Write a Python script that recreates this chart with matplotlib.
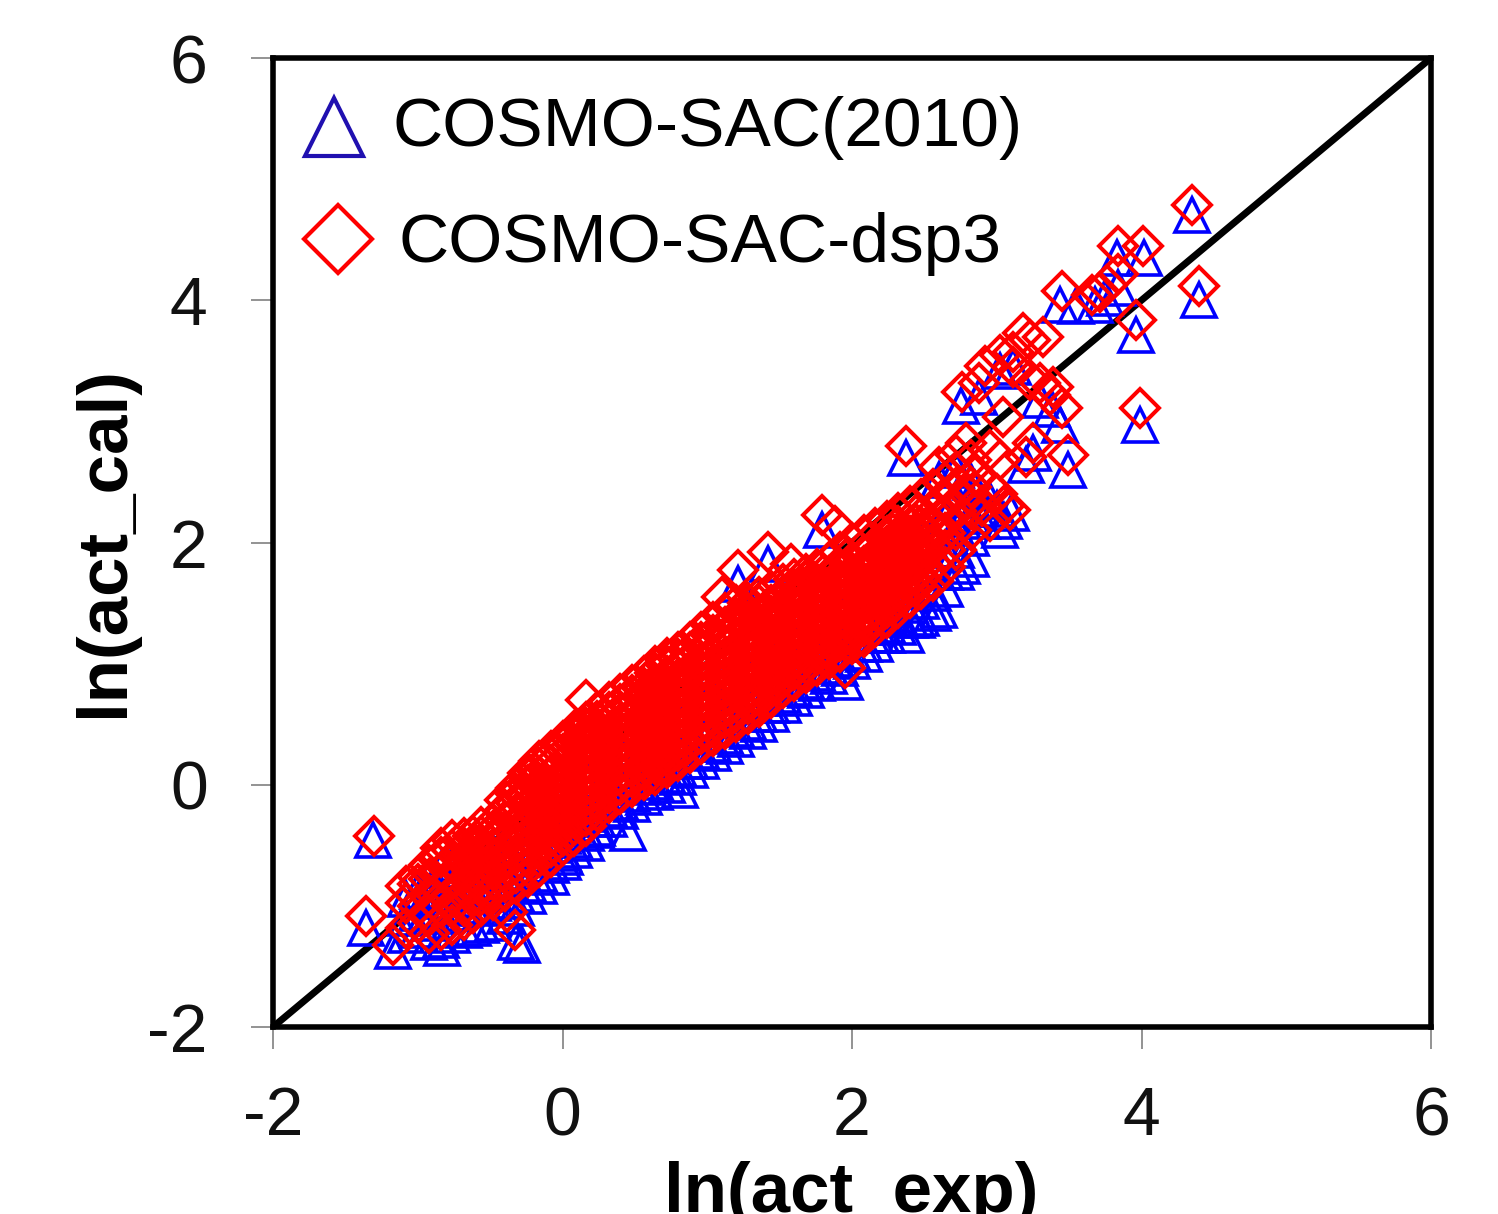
import matplotlib

matplotlib.use("Agg")
import matplotlib.pyplot as plt

plt.rcParams["font.family"] = ["Liberation Sans", "DejaVu Sans"]

tick_values = [-2, 0, 2, 4, 6]
tick_labels = ["-2", "0", "2", "4", "6"]
diagonal = [-2, 6]

# dense part of the cloud, one list of y values for each x column
band_x = [-1.08, -1.0, -0.92, -0.84, -0.76, -0.68, -0.62,
          -0.56, -0.48, -0.40, -0.32, -0.24, -0.16, -0.08, 0.0, 0.08, 0.16,
          0.24, 0.32, 0.40, 0.48, 0.56, 0.64, 0.72, 0.80, 0.88, 0.96,
          1.04, 1.12, 1.20, 1.28, 1.36, 1.44, 1.52, 1.60, 1.68, 1.76,
          1.84, 1.92, 2.00, 2.08, 2.16, 2.24, 2.32, 2.40, 2.48, 2.56, 2.64, 2.72, 2.82]
red_band_y = [
    [-1.18, -0.98, -0.84],
    [-1.14, -1.0, -0.82, -0.76],
    [-1.22, -1.08, -0.92, -0.78, -0.66],
    [-1.2, -1.02, -0.86, -0.72, -0.6, -0.52],
    [-1.16, -1.0, -0.9, -0.76, -0.64, -0.54, -0.46],
    [-1.12, -1.0, -0.84, -0.72, -0.62, -0.52, -0.44],
    [-1.06, -0.92, -0.82, -0.72, -0.62, -0.53, -0.42],
    [-1.0, -0.91, -0.83, -0.74, -0.66, -0.58, -0.5, -0.42, -0.35],
    [-0.95, -0.87, -0.78, -0.7, -0.62, -0.53, -0.45, -0.38, -0.32],
    [-0.88, -0.8, -0.72, -0.63, -0.54, -0.46, -0.38, -0.3, -0.21, -0.13],
    [-0.82, -0.73, -0.65, -0.57, -0.49, -0.4, -0.32, -0.24, -0.15, -0.08, -0.03],
    [-0.76, -0.68, -0.59, -0.51, -0.42, -0.34, -0.25, -0.17, -0.09, 0.0, 0.06, 0.1],
    [-0.68, -0.6, -0.52, -0.43, -0.35, -0.26, -0.18, -0.1, -0.01, 0.07, 0.14, 0.2],
    [-0.6, -0.51, -0.43, -0.34, -0.26, -0.18, -0.09, -0.01, 0.08, 0.16, 0.23, 0.28],
    [-0.5, -0.42, -0.34, -0.25, -0.17, -0.08, 0.0, 0.08, 0.17, 0.25, 0.31, 0.36],
    [-0.42, -0.33, -0.25, -0.16, -0.08, 0.01, 0.09, 0.17, 0.26, 0.34, 0.4, 0.44],
    [-0.34, -0.26, -0.17, -0.09, 0.0, 0.08, 0.16, 0.25, 0.33, 0.41, 0.47, 0.52],
    [-0.22, -0.14, -0.05, 0.03, 0.12, 0.2, 0.28, 0.37, 0.45, 0.53, 0.6],
    [-0.15, -0.07, 0.02, 0.1, 0.18, 0.27, 0.35, 0.43, 0.52, 0.6, 0.68],
    [-0.08, 0.0, 0.09, 0.17, 0.25, 0.34, 0.42, 0.5, 0.59, 0.67, 0.75],
    [-0.02, 0.06, 0.15, 0.23, 0.32, 0.4, 0.48, 0.57, 0.65, 0.74, 0.82],
    [0.04, 0.12, 0.21, 0.29, 0.38, 0.46, 0.54, 0.63, 0.71, 0.8, 0.9],
    [0.08, 0.17, 0.25, 0.34, 0.42, 0.5, 0.59, 0.67, 0.76, 0.84, 0.92, 0.98],
    [0.14, 0.23, 0.31, 0.39, 0.48, 0.56, 0.65, 0.73, 0.81, 0.9, 0.98, 1.05],
    [0.2, 0.28, 0.37, 0.45, 0.54, 0.62, 0.7, 0.79, 0.87, 0.96, 1.04, 1.1],
    [0.26, 0.35, 0.43, 0.52, 0.6, 0.68, 0.77, 0.85, 0.94, 1.02, 1.1, 1.18],
    [0.34, 0.42, 0.51, 0.59, 0.68, 0.76, 0.84, 0.93, 1.01, 1.1, 1.18, 1.26],
    [0.4, 0.48, 0.57, 0.65, 0.74, 0.82, 0.9, 0.99, 1.07, 1.16, 1.24, 1.34],
    [0.46, 0.55, 0.63, 0.72, 0.8, 0.88, 0.97, 1.05, 1.14, 1.22, 1.3, 1.42],
    [0.52, 0.6, 0.69, 0.77, 0.86, 0.94, 1.02, 1.11, 1.19, 1.28, 1.38, 1.48],
    [0.58, 0.67, 0.75, 0.84, 0.92, 1.0, 1.09, 1.17, 1.26, 1.34, 1.42, 1.5],
    [0.64, 0.73, 0.81, 0.9, 0.98, 1.06, 1.15, 1.23, 1.32, 1.4, 1.48, 1.55],
    [0.72, 0.8, 0.89, 0.97, 1.06, 1.14, 1.22, 1.31, 1.39, 1.48, 1.6],
    [0.8, 0.88, 0.97, 1.05, 1.14, 1.22, 1.3, 1.39, 1.47, 1.56, 1.66],
    [0.86, 0.95, 1.03, 1.11, 1.2, 1.28, 1.37, 1.45, 1.53, 1.62, 1.7],
    [0.92, 1.0, 1.09, 1.17, 1.26, 1.34, 1.42, 1.51, 1.59, 1.68, 1.74],
    [0.98, 1.07, 1.15, 1.24, 1.32, 1.4, 1.49, 1.57, 1.66, 1.78],
    [1.04, 1.13, 1.21, 1.3, 1.38, 1.46, 1.55, 1.63, 1.72, 1.84],
    [1.1, 1.19, 1.27, 1.36, 1.44, 1.52, 1.61, 1.69, 1.78, 1.92],
    [1.16, 1.25, 1.33, 1.41, 1.5, 1.58, 1.67, 1.75, 1.84, 2.0],
    [1.22, 1.31, 1.39, 1.48, 1.56, 1.64, 1.73, 1.81, 1.9, 2.06],
    [1.3, 1.38, 1.47, 1.55, 1.64, 1.72, 1.8, 1.89, 1.97, 2.12],
    [1.38, 1.46, 1.55, 1.63, 1.72, 1.8, 1.88, 1.97, 2.05, 2.18],
    [1.46, 1.55, 1.63, 1.72, 1.8, 1.88, 1.97, 2.05, 2.14, 2.24],
    [1.54, 1.63, 1.71, 1.8, 1.88, 1.96, 2.05, 2.13, 2.3],
    [1.62, 1.71, 1.79, 1.88, 1.96, 2.04, 2.13, 2.21, 2.36],
    [1.68, 1.82, 1.96, 2.1, 2.24, 2.44],
    [1.8, 1.94, 2.08, 2.22, 2.36, 2.5],
    [1.94, 2.1, 2.26, 2.42, 2.58],
    [2.1, 2.28, 2.46, 2.68],
]
blue_band_y = [
    [-1.24, -1.1, -0.94],
    [-1.2, -1.06, -0.88],
    [-1.3, -1.14, -0.96, -0.78],
    [-1.28, -1.08, -0.9, -0.7],
    [-1.24, -1.06, -0.86, -0.66],
    [-1.2, -1.02, -0.84, -0.62],
    [-1.18, -1.0, -0.8, -0.6],
    [-1.16, -1.02, -0.86, -0.62],
    [-1.14, -0.98, -0.82, -0.56],
    [-1.08, -0.96, -0.78, -0.5],
    [-1.02, -0.9, -0.72, -0.44],
    [-0.92, -0.82, -0.66, -0.36],
    [-0.84, -0.74, -0.58, -0.28],
    [-0.76, -0.66, -0.5, -0.2],
    [-0.64, -0.56, -0.42, -0.12],
    [-0.54, -0.46, -0.32, -0.04],
    [-0.48, -0.4, -0.24, 0.04],
    [-0.36, -0.28, -0.12, 0.16],
    [-0.28, -0.2, -0.06, 0.22],
    [-0.22, -0.14, 0.0, 0.3],
    [-0.16, -0.08, 0.06, 0.36],
    [-0.1, -0.02, 0.12, 0.42],
    [-0.06, 0.02, 0.16, 0.46],
    [0.0, 0.08, 0.22, 0.52],
    [0.06, 0.14, 0.28, 0.58],
    [0.12, 0.2, 0.34, 0.64],
    [0.2, 0.28, 0.42, 0.72],
    [0.26, 0.34, 0.48, 0.78],
    [0.32, 0.4, 0.54, 0.84],
    [0.38, 0.46, 0.6, 0.9],
    [0.44, 0.52, 0.66, 0.96],
    [0.5, 0.58, 0.72, 1.02],
    [0.58, 0.66, 0.8, 1.1],
    [0.66, 0.74, 0.88, 1.18],
    [0.72, 0.8, 0.94, 1.24],
    [0.78, 0.86, 1.0, 1.3],
    [0.84, 0.92, 1.06, 1.36],
    [0.9, 0.98, 1.12, 1.42],
    [0.96, 1.04, 1.18, 1.48],
    [1.02, 1.1, 1.24, 1.54],
    [1.08, 1.16, 1.3, 1.6],
    [1.16, 1.24, 1.38, 1.68],
    [1.24, 1.32, 1.46, 1.76],
    [1.3, 1.4, 1.54, 1.84],
    [1.36, 1.48, 1.62, 1.92],
    [1.38, 1.52, 1.7, 2.0],
    [1.42, 1.58, 1.76, 2.06],
    [1.62, 1.76, 1.94, 2.2],
    [1.76, 1.94, 2.12, 2.36],
    [1.86, 2.04, 2.22, 2.5],
]

# more red points in the middle of the band, between the columns above
mid_x = [-0.2, 0.04, 0.2, 0.36, 0.52, 0.68, 0.84, 1.0, 1.16, 1.32, 1.48, 1.64, 1.8, 1.96, 2.12, 2.28, 2.44]
mid_y = [
    [-0.46, -0.38, -0.3, -0.21, -0.13, -0.04, 0.04],
    [-0.3, -0.21, -0.13, -0.04, 0.04, 0.13, 0.21],
    [-0.17, -0.08, 0.0, 0.09, 0.17, 0.26, 0.34, 0.42],
    [-0.02, 0.06, 0.14, 0.23, 0.31, 0.4, 0.48, 0.56],
    [0.1, 0.19, 0.27, 0.36, 0.44, 0.52, 0.61, 0.69],
    [0.16, 0.24, 0.33, 0.41, 0.5, 0.58, 0.66, 0.75, 0.83],
    [0.3, 0.39, 0.47, 0.56, 0.64, 0.72, 0.81, 0.89, 0.98],
    [0.44, 0.52, 0.61, 0.69, 0.78, 0.86, 0.94, 1.03, 1.11],
    [0.56, 0.65, 0.73, 0.82, 0.9, 0.98, 1.07, 1.15, 1.24],
    [0.66, 0.75, 0.83, 0.92, 1.0, 1.08, 1.17, 1.25, 1.34],
    [0.82, 0.9, 0.99, 1.07, 1.16, 1.24, 1.32, 1.41, 1.49],
    [0.94, 1.02, 1.11, 1.19, 1.28, 1.36, 1.44, 1.53, 1.61],
    [1.06, 1.14, 1.23, 1.31, 1.4, 1.48, 1.56, 1.65, 1.73],
    [1.18, 1.27, 1.35, 1.44, 1.52, 1.6, 1.69, 1.77, 1.86],
    [1.32, 1.41, 1.49, 1.58, 1.66, 1.74, 1.83, 1.91, 2.0],
    [1.48, 1.57, 1.65, 1.74, 1.82, 1.9, 1.99, 2.07, 2.16],
    [1.64, 1.73, 1.81, 1.9, 1.98, 2.06, 2.15, 2.23],
]

# scattered points outside the dense part
red_x = [-1.30, -1.36, -1.17, -0.33, -0.38, 0.16, 1.21, 1.42, 1.79, 1.95, 1.1, 1.58, 1.88,
         2.37, 2.76, 2.88, 2.79, 2.95, 3.02, 3.09, 2.95, 3.02, 2.92, 3.11, 3.11, 3.18,
         3.23, 3.32, 3.04, 3.25, 3.20, 3.30, 3.23, 3.39, 3.37, 3.45, 3.49, 3.99, 3.96,
         3.45, 3.66, 3.71, 3.76, 3.84, 3.84, 4.01, 4.40, 4.35,
         2.6, 2.72, 2.85, 2.95, 3.0, 3.05, 2.8, 2.9, 2.62]
red_y = [-0.42, -1.08, -1.32, -1.2, -1.05, 0.7, 1.77, 1.92, 2.23, 0.96, 1.55, 1.82, 2.14,
         2.80, 3.24, 3.32, 2.82, 2.76, 2.68, 2.27, 2.18, 3.55, 3.46, 3.57, 3.45, 3.73,
         3.67, 3.70, 3.04, 2.82, 2.71, 3.32, 3.34, 3.28, 3.22, 3.11, 2.72, 3.11, 3.84,
         4.08, 4.04, 4.07, 4.13, 4.45, 4.22, 4.45, 4.12, 4.79,
         2.62, 2.72, 2.55, 2.45, 2.4, 2.3, 2.4, 2.3, 2.35]
blue_x = [-1.31, -1.36, -1.17, -0.83, -0.32, -0.28, 0.02, 0.23, 0.45, 0.81, 1.21, 1.42, 1.79,
          1.95, 2.2, 2.37, 2.45, 2.6, 2.76, 2.75, 2.88, 3.02, 3.1, 3.02, 3.11, 3.2, 3.25,
          3.3, 3.44, 3.38, 3.49, 3.99, 3.96, 3.44, 3.55, 3.68, 3.75, 3.83, 3.84, 4.02, 4.40, 4.35,
          2.37, 2.6, 2.72, 2.85, 2.95, 3.0, 3.05, 2.8, 2.9]
blue_y = [-0.46, -1.18, -1.37, -1.35, -1.3, -1.32, -0.6, -0.37, -0.4, -0.04, 1.66, 1.82, 2.1,
          0.85, 1.24, 1.24, 1.36, 1.44, 1.81, 3.13, 3.2, 2.1, 2.24, 3.42, 3.45, 2.64, 2.74,
          3.18, 2.97, 3.1, 2.6, 2.97, 3.71, 3.96, 3.95, 3.96, 4.02, 4.35, 4.1, 4.35, 4.0, 4.70,
          2.7, 2.52, 2.6, 2.44, 2.34, 2.28, 2.18, 2.28, 2.18]

legend_names = ["COSMO-SAC(2010)", "COSMO-SAC-dsp3"]
x_label = "ln(act_exp)"
y_label = "ln(act_cal)"


def explode(columns, rows):
    xs = []
    ys = []
    for x, col in zip(columns, rows):
        for y in col:
            xs.append(x)
            ys.append(y)
    return xs, ys


fig = plt.figure(figsize=(14.98, 12.14), dpi=100)
ax = fig.add_axes([273 / 1498, 1 - 1027 / 1214, (1431 - 273) / 1498, (1027 - 58) / 1214])

ax.plot(diagonal, diagonal, color="black", lw=5, zorder=1)

bx, by = explode(band_x, blue_band_y)
ax.plot(bx + blue_x, by + blue_y, ls="none", marker="^", ms=25, mfc="none", mec="#0000ff", mew=2.6, zorder=2, clip_on=False)
rx, ry = explode(band_x, red_band_y)
mx, my = explode(mid_x, mid_y)
ax.plot(rx + mx + red_x, ry + my + red_y, ls="none", marker="D", ms=19.5, mfc="none", mec="#ff0000", mew=2.9, zorder=3, clip_on=False)

ax.set_xlim(-2, 6)
ax.set_ylim(-2, 6)
ax.set_xticks(tick_values, tick_labels)
ax.set_yticks(tick_values, tick_labels)
ax.tick_params(axis="both", length=16, width=1.2, color="#808080", labelsize=49, labelcolor="#111111")
ax.tick_params(axis="x", pad=26)
ax.tick_params(axis="y", pad=31)
for spine in ax.spines.values():
    spine.set_linewidth(4)
    spine.set_color("black")

# hand placed legend, same as the original
fig_tr = fig.transFigure
fig.add_artist(plt.Line2D([334 / 1498], [1 - 127 / 1214], transform=fig_tr, marker="^", ms=42, mfc="none", mec="#2010b0", mew=3))
fig.add_artist(plt.Line2D([338 / 1498], [1 - 239 / 1214], transform=fig_tr, marker="D", ms=35, mfc="none", mec="#ff0000", mew=3))
fig.text(393 / 1498, 1 - 146 / 1214, legend_names[0], fontsize=50, color="black", va="baseline")
fig.text(399 / 1498, 1 - 262 / 1214, legend_names[1], fontsize=50, color="black", va="baseline")

fig.text(851 / 1498, 1 - 1212 / 1214, x_label, fontsize=51, fontweight="bold", ha="center", va="baseline")
fig.text(123 / 1498, 1 - 542 / 1214, y_label, fontsize=51, fontweight="bold", rotation=90, ha="center", va="baseline", rotation_mode="anchor")

fig.savefig("out.png", dpi=100)
